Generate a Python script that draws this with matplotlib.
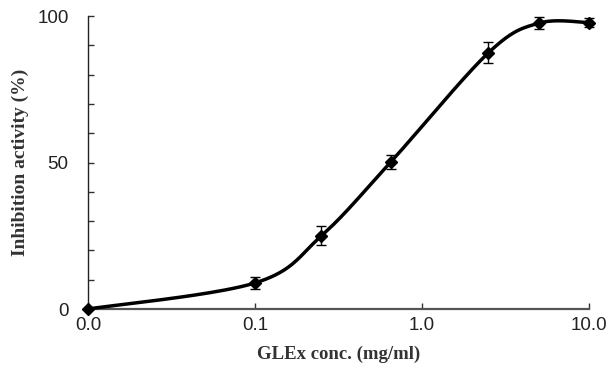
import numpy as np
import matplotlib
matplotlib.use("Agg")
import matplotlib.pyplot as plt

conc = [0.01, 0.1, 0.25, 0.65, 2.5, 5.0, 10.0]
inhibition = [0.0, 8.9, 25.0, 50.2, 87.5, 97.6, 97.8]
err = [0.0, 2.0, 3.2, 2.4, 3.5, 2.0, 1.5]
xtick_vals = [0.01, 0.1, 1.0, 10.0]
xtick_labels = ["0.0", "0.1", "1.0", "10.0"]
ytick_vals = [0, 50, 100]

fig = plt.figure(figsize=(6.1, 3.75), dpi=100)
ax = fig.add_axes([0.1443, 0.176, 0.8213, 0.781])
ax.set_xscale("log")
ax.set_xlim(0.01, 10)
ax.set_ylim(0, 100)

fig.canvas.draw()

# Excel-like smoothed line (Catmull-Rom Bezier in display space)
pts = ax.transData.transform(np.column_stack([conc, inhibition]))
n = len(pts)
curve = []
for i in range(n - 1):
    p0 = pts[i - 1] if i > 0 else pts[i]
    p1 = pts[i]
    p2 = pts[i + 1]
    p3 = pts[i + 2] if i + 2 < n else pts[i + 1]
    c1 = p1 + (p2 - p0) / 6.0
    c2 = p2 - (p3 - p1) / 6.0
    t = np.linspace(0, 1, 40)[:, None]
    seg = ((1 - t) ** 3) * p1 + 3 * ((1 - t) ** 2) * t * c1 + 3 * (1 - t) * t ** 2 * c2 + t ** 3 * p2
    curve.append(seg if i == 0 else seg[1:])
curve = np.vstack(curve)
curve_data = ax.transData.inverted().transform(curve)
ax.plot(curve_data[:, 0], curve_data[:, 1], color="black", lw=2.5, clip_on=False, zorder=3,
        solid_capstyle="round")

ax.errorbar(conc, inhibition, yerr=err, fmt="D", color="black", ms=6, ecolor="black",
            elinewidth=1.0, capsize=3.5, capthick=1.0, clip_on=False, zorder=4)

for s in ["top", "right"]:
    ax.spines[s].set_visible(False)
ax.spines["left"].set_color("#222222")
ax.spines["left"].set_linewidth(1.0)
ax.spines["bottom"].set_color("#555555")
ax.spines["bottom"].set_linewidth(1.6)

ax.set_xticks(xtick_vals)
ax.set_xticklabels(xtick_labels)
ax.xaxis.set_minor_locator(matplotlib.ticker.NullLocator())
ax.set_yticks(ytick_vals)
ax.set_yticks(np.arange(0, 101, 10), minor=True)
ax.tick_params(axis="both", which="both", direction="in", length=4, width=1, color="#333333")
ax.tick_params(axis="x", which="major", pad=6)
ax.tick_params(axis="y", which="major", pad=14)
for lab in ax.get_xticklabels() + ax.get_yticklabels():
    lab.set_fontfamily("Liberation Sans")
    lab.set_fontsize(13.5)
    lab.set_color("#222222")

ax.set_xlabel("GLEx conc. (mg/ml)", fontfamily="Liberation Serif", fontweight="bold",
              fontsize=13.5, color="#333333", labelpad=8)
ax.set_ylabel("Inhibition activity (%)", fontfamily="Liberation Serif", fontweight="bold",
              fontsize=14, color="#333333", labelpad=6)

fig.savefig("out.png", dpi=100)
